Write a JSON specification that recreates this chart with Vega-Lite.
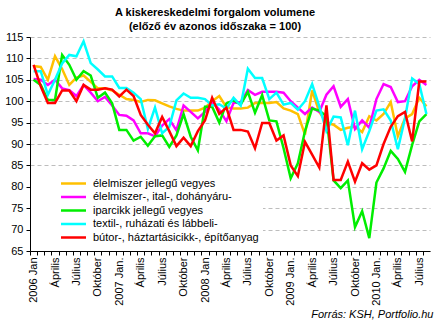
{
  "$schema": "https://vega.github.io/schema/vega-lite/v6.json",
  "width": 400,
  "height": 214,
  "autosize": {"type": "none"},
  "padding": {"left": 30, "top": 37, "right": 10, "bottom": 79},
  "background": "white",
  "config": {"font": "Liberation Sans", "view": {"stroke": null}},
  "title": {
    "text": ["A kiskereskedelmi forgalom volumene", "(előző év azonos időszaka = 100)"],
    "fontSize": 11,
    "fontWeight": "bold",
    "color": "black",
    "anchor": "middle",
    "dx": -15,
    "lineHeight": 14,
    "offset": -1
  },
  "data": {
    "values": [
      {"ho": "2006-01", "a": 108.2, "b": 105.2, "c": 105.0, "d": 107.0, "e": 108.5},
      {"ho": "2006-02", "a": 108.0, "b": 105.0, "c": 103.8, "d": 107.0, "e": 103.5},
      {"ho": "2006-03", "a": 105.0, "b": 103.8, "c": 100.3, "d": 101.5, "e": 99.6},
      {"ho": "2006-04", "a": 110.5, "b": 105.0, "c": 100.3, "d": 105.0, "e": 99.6},
      {"ho": "2006-05", "a": 107.5, "b": 103.0, "c": 110.8, "d": 108.8, "e": 102.5},
      {"ho": "2006-06", "a": 103.8, "b": 102.6, "c": 108.5, "d": 110.8, "e": 102.5},
      {"ho": "2006-07", "a": 105.5, "b": 101.2, "c": 105.0, "d": 110.5, "e": 100.0},
      {"ho": "2006-08", "a": 106.0, "b": 103.8, "c": 107.0, "d": 114.0, "e": 103.8},
      {"ho": "2006-09", "a": 104.5, "b": 102.0, "c": 106.0, "d": 108.9, "e": 102.7},
      {"ho": "2006-10", "a": 103.0, "b": 100.0, "c": 100.8, "d": 107.4, "e": 102.7},
      {"ho": "2006-11", "a": 103.0, "b": 101.0, "c": 102.0, "d": 105.8, "e": 103.0},
      {"ho": "2006-12", "a": 102.5, "b": 99.0, "c": 99.5, "d": 105.8, "e": 102.7},
      {"ho": "2007-01", "a": 101.5, "b": 96.8, "c": 93.3, "d": 103.1, "e": 101.1},
      {"ho": "2007-02", "a": 100.5, "b": 96.6, "c": 93.3, "d": 103.1, "e": 102.7},
      {"ho": "2007-03", "a": 100.3, "b": 95.5, "c": 90.8, "d": 102.0, "e": 101.2},
      {"ho": "2007-04", "a": 99.8, "b": 92.5, "c": 91.7, "d": 100.5, "e": 96.8},
      {"ho": "2007-05", "a": 100.3, "b": 92.5, "c": 89.6, "d": 93.5, "e": 94.5},
      {"ho": "2007-06", "a": 100.2, "b": 91.8, "c": 91.8, "d": 98.5, "e": 92.5},
      {"ho": "2007-07", "a": 99.5, "b": 94.3, "c": 92.0, "d": 92.5, "e": 96.3},
      {"ho": "2007-08", "a": 98.8, "b": 95.8, "c": 89.3, "d": 94.0, "e": 93.0},
      {"ho": "2007-09", "a": 98.2, "b": 93.2, "c": 92.0, "d": 100.2, "e": 89.5},
      {"ho": "2007-10", "a": 97.8, "b": 99.0, "c": 97.0, "d": 101.8, "e": 91.5},
      {"ho": "2007-11", "a": 97.8, "b": 97.5, "c": 91.7, "d": 100.8, "e": 89.5},
      {"ho": "2007-12", "a": 97.8, "b": 96.0, "c": 88.5, "d": 100.8, "e": 93.0},
      {"ho": "2008-01", "a": 98.5, "b": 97.5, "c": 98.7, "d": 100.5, "e": 95.5},
      {"ho": "2008-02", "a": 100.0, "b": 99.8, "c": 98.7, "d": 99.0, "e": 100.8},
      {"ho": "2008-03", "a": 101.2, "b": 98.0, "c": 95.0, "d": 99.3, "e": 97.0},
      {"ho": "2008-04", "a": 98.6, "b": 95.3, "c": 99.5, "d": 98.3, "e": 98.5},
      {"ho": "2008-05", "a": 98.3, "b": 99.6, "c": 100.2, "d": 100.8, "e": 93.3},
      {"ho": "2008-06", "a": 98.3, "b": 99.8, "c": 99.2, "d": 99.0, "e": 93.3},
      {"ho": "2008-07", "a": 98.5, "b": 102.6, "c": 102.2, "d": 107.6, "e": 92.9},
      {"ho": "2008-08", "a": 99.6, "b": 101.5, "c": 97.3, "d": 105.4, "e": 89.0},
      {"ho": "2008-09", "a": 99.6, "b": 102.2, "c": 101.4, "d": 105.4, "e": 94.9},
      {"ho": "2008-10", "a": 99.6, "b": 102.2, "c": 95.5, "d": 100.5, "e": 94.9},
      {"ho": "2008-11", "a": 99.8, "b": 102.2, "c": 95.3, "d": 102.0, "e": 90.8},
      {"ho": "2008-12", "a": 98.3, "b": 102.0, "c": 89.0, "d": 99.2, "e": 92.0},
      {"ho": "2009-01", "a": 97.8, "b": 100.0, "c": 82.0, "d": 99.6, "e": 85.0},
      {"ho": "2009-02", "a": 97.0, "b": 98.5, "c": 85.5, "d": 98.0, "e": 82.5},
      {"ho": "2009-03", "a": 92.2, "b": 97.0, "c": 93.0, "d": 100.0, "e": 90.5},
      {"ho": "2009-04", "a": 102.5, "b": 98.5, "c": 98.3, "d": 104.0, "e": 87.5},
      {"ho": "2009-05", "a": 97.5, "b": 97.5, "c": 97.8, "d": 98.8, "e": 84.5},
      {"ho": "2009-06", "a": 95.0, "b": 101.5, "c": 96.5, "d": 93.0, "e": 99.0},
      {"ho": "2009-07", "a": 94.5, "b": 103.5, "c": 81.5, "d": 96.4, "e": 81.6},
      {"ho": "2009-08", "a": 93.3, "b": 98.7, "c": 79.7, "d": 96.2, "e": 81.6},
      {"ho": "2009-09", "a": 93.8, "b": 100.5, "c": 81.5, "d": 89.7, "e": 85.9},
      {"ho": "2009-10", "a": 94.0, "b": 93.5, "c": 70.6, "d": 97.8, "e": 81.2},
      {"ho": "2009-11", "a": 92.8, "b": 95.5, "c": 74.3, "d": 88.8, "e": 85.5},
      {"ho": "2009-12", "a": 96.5, "b": 93.8, "c": 68.0, "d": 93.0, "e": 84.0},
      {"ho": "2010-01", "a": 95.5, "b": 100.5, "c": 81.0, "d": 97.8, "e": 85.0},
      {"ho": "2010-02", "a": 97.0, "b": 104.0, "c": 84.3, "d": 98.1, "e": 90.0},
      {"ho": "2010-03", "a": 99.8, "b": 103.3, "c": 88.4, "d": 95.5, "e": 94.0},
      {"ho": "2010-04", "a": 91.8, "b": 99.8, "c": 86.5, "d": 88.8, "e": 96.5},
      {"ho": "2010-05", "a": 96.0, "b": 100.0, "c": 83.5, "d": 96.0, "e": 97.5},
      {"ho": "2010-06", "a": 97.0, "b": 103.5, "c": 89.8, "d": 105.3, "e": 90.6},
      {"ho": "2010-07", "a": 100.8, "b": 105.0, "c": 95.3, "d": 104.0, "e": 104.6},
      {"ho": "2010-08", "a": 98.8, "b": 103.8, "c": 97.0, "d": 97.0, "e": 104.6}
    ]
  },
  "transform": [{"fold": ["a", "b", "c", "d", "e"], "as": ["sor", "v"]}],
  "mark": {"type": "line", "strokeWidth": 2.5},
  "encoding": {
    "x": {
      "field": "ho",
      "type": "ordinal",
      "scale": {"type": "point", "padding": 0.5},
      "axis": {
        "title": "Forrás: KSH, Portfolio.hu",
        "titleFontStyle": "italic",
        "titleFontWeight": "normal",
        "titleFontSize": 11,
        "titleColor": "black",
        "titleAnchor": "end",
        "titleAlign": "right",
        "titleX": 403,
        "titleY": 66,
        "titleBaseline": "alphabetic",
        "labelAngle": 270,
        "labelFontSize": 11,
        "labelColor": "black",
        "labelPadding": 2,
        "labelOverlap": false,
        "labelBound": false,
        "tickSize": 4,
        "tickColor": "black",
        "domainColor": "black",
        "tickOffset": -3.57,
        "labelOffset": 3.57,
        "grid": false,
        "labelExpr": "slice(datum.value,5)=='01' ? slice(datum.value,0,4)+' Jan'+(indexof(['2007','2009','2010'], slice(datum.value,0,4))>=0 ? '.' : '') : slice(datum.value,5)=='04' ? 'Április' : slice(datum.value,5)=='07' ? 'Július' : slice(datum.value,5)=='10' ? 'Október' : ''"
      }
    },
    "y": {
      "field": "v",
      "type": "quantitative",
      "scale": {"domain": [65, 115], "zero": false, "nice": false},
      "axis": {
        "title": null,
        "values": [65, 70, 75, 80, 85, 90, 95, 100, 105, 110, 115],
        "labelFontSize": 11,
        "labelColor": "black",
        "labelPadding": 3,
        "tickSize": 4,
        "tickColor": "black",
        "domainColor": "black",
        "grid": true,
        "gridColor": "#bdbdbd",
        "gridDash": [4, 3]
      }
    },
    "color": {
      "field": "sor",
      "type": "nominal",
      "scale": {
        "domain": ["a", "b", "c", "d", "e"],
        "range": ["#FFC000", "#FF00FF", "#00EE00", "#00FFFF", "#FF0000"]
      },
      "legend": {
        "title": null,
        "orient": "none",
        "legendX": 1,
        "legendY": 137,
        "fillColor": "white",
        "padding": 4,
        "symbolType": "M-5,0H5",
        "symbolSize": 25,
        "symbolStrokeWidth": 2.5,
        "symbolOffset": 33,
        "labelFontSize": 11,
        "labelColor": "black",
        "labelOffset": 14,
        "labelLimit": 400,
        "rowPadding": 1.5,
        "labelExpr": "datum.value=='a' ? 'élelmiszer jellegű vegyes' : datum.value=='b' ? 'élelmiszer-, ital-, dohányáru-' : datum.value=='c' ? 'iparcikk jellegű vegyes' : datum.value=='d' ? 'textil-, ruházati és lábbeli-' : 'bútor-, háztartásicikk-, építőanyag'"
      }
    }
  }
}
